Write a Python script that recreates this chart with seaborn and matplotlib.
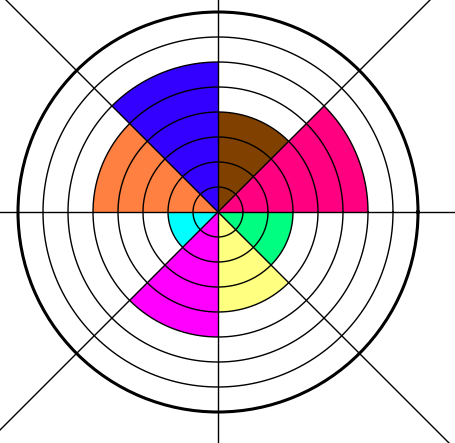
import numpy as np
import matplotlib
matplotlib.use("Agg")
import matplotlib.pyplot as plt
import seaborn as sns

sns.set_style("white")

# sectors counter-clockwise from east, 45 degrees each
sectors = ["pink", "brown", "blue", "orange", "cyan", "magenta", "yellow", "green"]
values = [6, 4, 6, 5, 2, 5, 4, 3]
colors = ["#FF0080", "#804000", "#3300FF", "#FF8040",
          "#00FFFF", "#FF00FF", "#FFFF80", "#00FF80"]
rings = [1, 2, 3, 4, 5, 6, 7]
rmax = 8

W, H = 455, 443
cx, cy, rad = 218, 212, 200

fig = plt.figure(figsize=(W / 100, H / 100), dpi=100)
fig.patch.set_facecolor("white")
ax = fig.add_axes([(cx - rad) / W, (H - cy - rad) / H, 2 * rad / W, 2 * rad / H],
                  projection="polar")

theta = np.deg2rad(np.arange(len(values)) * 45)
ax.bar(theta, values, width=np.deg2rad(45), align="edge",
       color=colors, edgecolor="none", linewidth=0, zorder=1)

# concentric rings
t = np.linspace(0, 2 * np.pi, 400)
for r in rings:
    ax.plot(t, np.full_like(t, r), color="black", lw=1, zorder=2)

# spokes running out to the figure edges
for a in np.deg2rad(np.arange(0, 360, 45)):
    ax.plot([a, a], [0, 14], color="black", lw=1, zorder=3, clip_on=False)

ax.set_ylim(0, rmax)
ax.set_xticks([])
ax.set_yticks([])
ax.grid(False)
ax.spines["polar"].set_color("black")
ax.spines["polar"].set_linewidth(2.2)

fig.savefig("out.png", dpi=100, facecolor="white")
